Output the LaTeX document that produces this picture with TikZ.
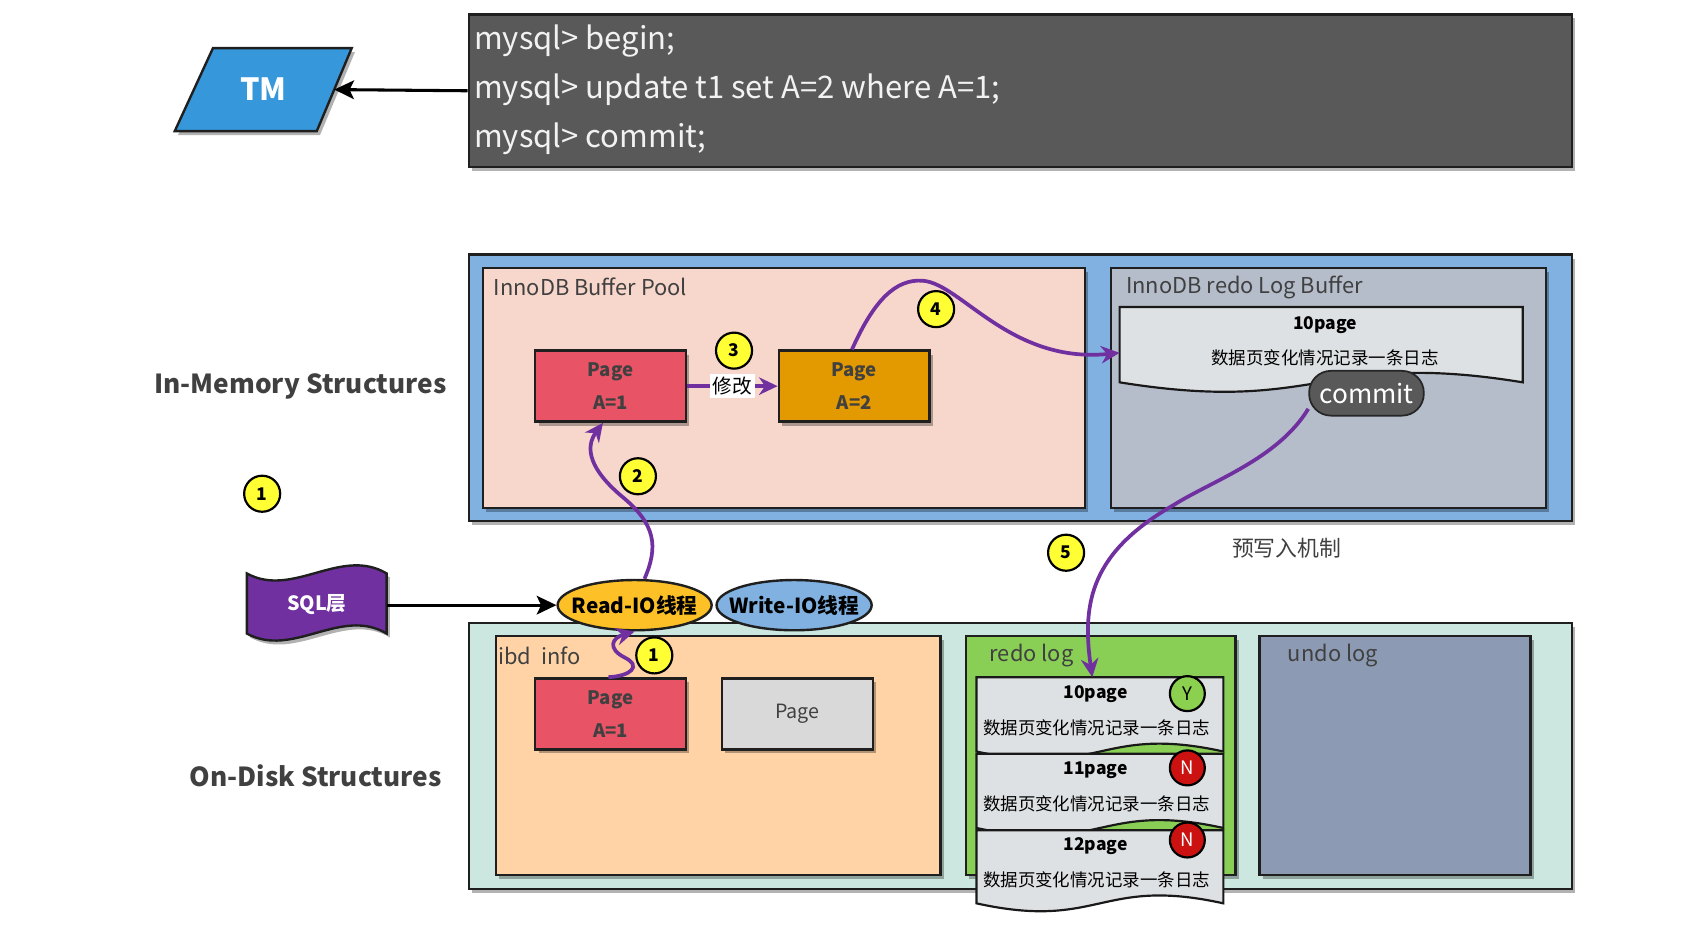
\documentclass[tikz,border=0pt]{standalone}
\usepackage{fontspec}
\setmainfont{Noto Sans CJK SC}
\usetikzlibrary{shadows,arrows.meta,shapes.geometric}
\definecolor{dk}{HTML}{595959}
\definecolor{tmblue}{HTML}{3797DB}
\definecolor{memblue}{HTML}{80B1E1}
\definecolor{bpool}{HTML}{F7D6CB}
\definecolor{rbuf}{HTML}{B5BDCB}
\definecolor{docg}{HTML}{DEE1E3}
\definecolor{pgred}{HTML}{E85466}
\definecolor{pgor}{HTML}{E39A00}
\definecolor{rio}{HTML}{FDC026}
\definecolor{dskteal}{HTML}{CCE7DF}
\definecolor{ibd}{HTML}{FFD3A6}
\definecolor{rlog}{HTML}{89CF56}
\definecolor{ulog}{HTML}{8C9BB3}
\definecolor{ygreen}{HTML}{8BD14F}
\definecolor{nred}{HTML}{CC1111}
\definecolor{mky}{HTML}{FFFF33}
\definecolor{prp}{HTML}{7030A0}
\definecolor{lbl}{HTML}{404040}
\definecolor{pggray}{HTML}{D9D9D9}
\begin{document}
\begin{tikzpicture}[x=0.5pt,y=-0.5pt,
  bx/.style={draw=black!88,line width=1.1pt},
  shd/.style={drop shadow={shadow xshift=1.5pt,shadow yshift=-1.8pt,opacity=0.3,fill=black}},
  area/.style={bx,shd,anchor=north west,inner sep=0pt},
  pg/.style={bx,shd,minimum width=69pt,minimum height=32.5pt,inner sep=0pt,align=center,text=lbl,font=\bfseries\fontsize{8.5}{15}\selectfont},
  mk/.style={circle,draw=black,line width=1pt,fill=mky,minimum size=16.5pt,inner sep=0pt,font=\bfseries\fontsize{8}{8}\selectfont},
  yn/.style={circle,draw=black,line width=1pt,minimum size=16pt,inner sep=0pt,font=\fontsize{8.5}{8.5}\selectfont},
  pr/.style={draw=prp,line width=1.7pt,-{Stealth[length=8.5pt,width=8pt]}},
  bk/.style={draw=black,line width=1.4pt,-{Stealth[length=9pt,width=8.5pt,inset=2pt]}},
  ttl/.style={anchor=west,text=lbl,font=\fontsize{10}{10}\selectfont},
  doctxt/.style={font=\fontsize{8}{8}\selectfont,text=black},
  docbold/.style={font=\bfseries\fontsize{8}{8}\selectfont,text=black},
  docshape/.style={draw=black!90,line width=1pt,fill=docg},
]
\useasboundingbox (0,0) rectangle (1560,848);

% terminal
\node[area,fill=dk,minimum width=505pt,minimum height=70pt] (term) at (428,12) {};
\node[anchor=west,align=left,text=white!95!black,font=\fontsize{14.2}{22.5}\selectfont] (cmds) at (427,82) {mysql> begin;\\mysql> update t1 set A=2 where A=1;\\mysql> commit;};

% TM
\path[bx,shd,fill=tmblue] (160,120) -- (195,44) -- (322,44) -- (290,120) -- cycle;
\node[text=white,font=\bfseries\fontsize{14}{14}\selectfont] (tm) at (241,82) {TM};
\coordinate (tmR) at (306,82);
\draw[bk] (term.west) -- (tmR);

% in-memory
\node[area,fill=memblue,minimum width=505pt,minimum height=122pt] (mem) at (428,232) {};
\node[area,fill=bpool,minimum width=275.5pt,minimum height=110pt] (bp) at (441,244) {};
\node[area,fill=rbuf,minimum width=199pt,minimum height=110pt] (rb) at (1016,244) {};
\node[ttl] (bpl) at (445,263) {InnoDB Buffer Pool};
\node[ttl] (rbl) at (1024,263) {InnoDB redo Log Buffer};

\node[pg,fill=pgred] (pm1) at (559,353.5) {Page\\A=1};
\node[pg,fill=pgor] (pm2) at (782,353.5) {Page\\A=2};
\draw[pr] (pm1) -- (pm2) node[midway,fill=white,inner sep=1.2pt,text=black,font=\fontsize{9}{9}\selectfont] (xg) {修改};

\path[docshape] (1025,281) -- (1394,281) -- (1394,350) .. controls (1210,320) and (1210,380) .. (1025,350) -- cycle;
\node[docbold] (b10) at (1213,298) {10page};
\node[doctxt] (bct) at (1213,328) {数据页变化情况记录一条日志};
\coordinate (bufL) at (1025,323);
\node[fill=dk,draw=black!85,line width=0.8pt,rounded corners=10pt,minimum width=52.5pt,minimum height=20.5pt,text=white,font=\fontsize{12}{12}\selectfont,inner sep=0pt] (commit) at (1251,360) {commit};

% on-disk
\node[area,fill=dskteal,minimum width=505pt,minimum height=122pt] (disk) at (428,569) {};
\node[area,fill=ibd,minimum width=203.5pt,minimum height=109.5pt] (ibdb) at (453,581) {};
\node[area,fill=rlog,minimum width=123.5pt,minimum height=109.5pt] (rlb) at (883,581) {};
\node[area,fill=ulog,minimum width=124pt,minimum height=109.5pt] (ulb) at (1152,581) {};
\node[ttl] (ibdl) at (449,600) {ibd\ \ info};
\node[ttl] (rll) at (899,600) {redo log};
\node[ttl] (ull) at (1172,600) {undo log};

\node[pg,fill=pgred] (pd1) at (559,653.5) {Page\\A=1};
\node[pg,fill=pggray,font=\fontsize{9}{9}\selectfont] (pd2) at (730,653.5) {Page};

% redo log documents
\path[docshape] (894,620) -- (1120,620) -- (1120,688) .. controls (1007,663) and (1007,713) .. (894,688) -- cycle;
\path[docshape] (894,690) -- (1120,690) -- (1120,758) .. controls (1007,733) and (1007,783) .. (894,758) -- cycle;
\path[docshape] (894,760) -- (1120,760) -- (1120,827) .. controls (1007,802) and (1007,852) .. (894,827) -- cycle;
\node[docbold] (r10) at (1003,635) {10page};
\node[doctxt] (r10c) at (1004,666) {数据页变化情况记录一条日志};
\node[docbold] (r11) at (1003,705) {11page};
\node[doctxt] (r11c) at (1004,736) {数据页变化情况记录一条日志};
\node[docbold] (r12) at (1003,775) {12page};
\node[doctxt] (r12c) at (1004,805) {数据页变化情况记录一条日志};
\node[yn,fill=ygreen] (cy) at (1087,635) {Y};
\node[yn,fill=nred,text=white] (cn1) at (1087,703) {N};
\node[yn,fill=nred,text=white] (cn2) at (1087,769) {N};
\coordinate (d1top) at (1000,620);

% IO threads
\node[ellipse,bx,fill=rio,minimum width=70.5pt,minimum height=23pt,inner sep=0pt] (rio) at (581,554) {};
\node[font=\bfseries\fontsize{9.5}{9.5}\selectfont] (riot) at (rio) {Read-IO线程};
\node[ellipse,bx,fill=memblue,minimum width=71pt,minimum height=23pt,inner sep=0pt] (wio) at (727,554) {};
\node[font=\bfseries\fontsize{9.5}{9.5}\selectfont] (wiot) at (wio) {Write-IO线程};

% SQL layer
\path[bx,shd,fill=prp] (226,525) .. controls (268,548) and (312,500) .. (354,525) -- (354,580) .. controls (312,555) and (268,603) .. (226,580) -- cycle;
\node[text=white,font=\bfseries\fontsize{9}{9}\selectfont] (sql) at (290,553) {SQL层};
\coordinate (sqlE) at (354,554);
\draw[bk] (sqlE) -- (rio.west);

% side labels
\node[font=\bfseries\fontsize{12}{12}\selectfont,text=lbl] (imem) at (275,354) {In-Memory Structures};
\node[font=\bfseries\fontsize{12}{12}\selectfont,text=lbl] (odisk) at (289,710) {On-Disk Structures};
\node[text=lbl,font=\fontsize{10}{10}\selectfont] (wal) at (1178,502) {预写入机制};

% purple connectors
\draw[pr] ([xshift=4.5pt]rio.north) .. controls (603,500) and (600,480) .. (570,455) .. controls (540,430) and (535,410) .. ([xshift=-3.5pt]pm1.south);
\draw[pr] ([xshift=-1pt]pd1.north) .. controls (577,619) and (588,610) .. (572,602) .. controls (556,594) and (560,584) .. (rio.south);
\draw[pr] ([xshift=-1pt]pm2.north) .. controls (800,275) and (820,255) .. (845,257) .. controls (880,260) and (925,333) .. (bufL);
\draw[pr] (commit.195) .. controls (1170,420) and (1110,440) .. (1075,462) .. controls (1000,505) and (990,550) .. (d1top);

% markers
\node[mk] (m1a) at (240,452) {1};
\node[mk] (m3) at (672,321) {3};
\node[mk] (m2) at (584,436) {2};
\node[mk] (m4) at (857,283) {4};
\node[mk] (m5) at (976,506) {5};
\node[mk] (m1b) at (599,600) {1};
\end{tikzpicture}
\end{document}
